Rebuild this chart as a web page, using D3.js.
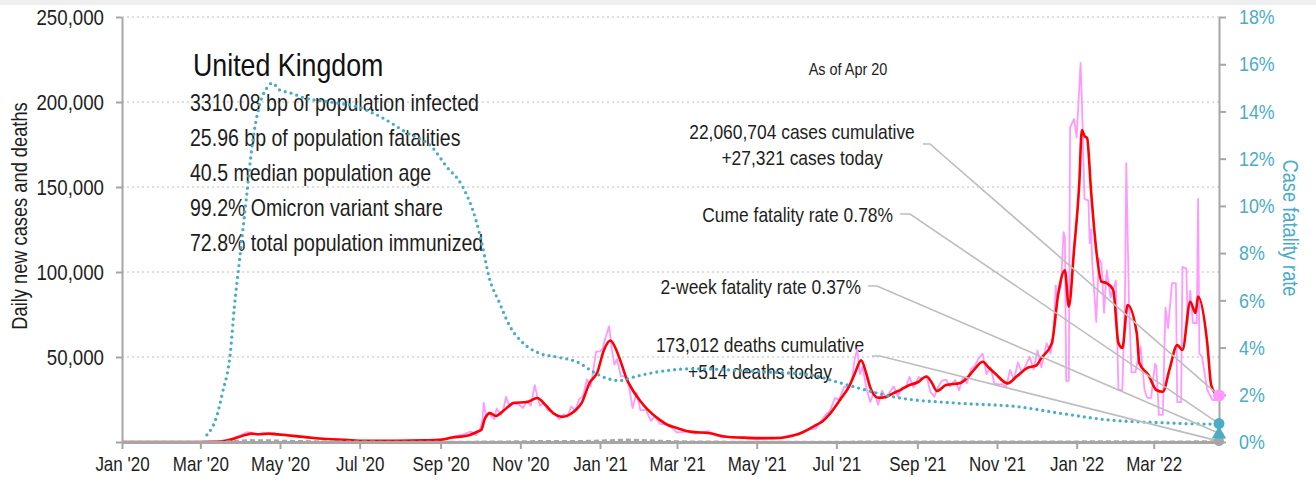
<!DOCTYPE html>
<html><head><meta charset="utf-8">
<script src="https://cdn.jsdelivr.net/npm/d3@7"></script>
<style>
body{margin:0;background:#fff;}
svg text{font-family:"Liberation Sans",Arial,sans-serif;}
</style></head><body><svg id="c" width="1316" height="482"></svg>
<script>
// ---------------- data ----------------
const caseAvg = [
["2020-01-01",0],["2020-03-01",10],["2020-03-10",50],["2020-03-16",300],["2020-03-23",1200],["2020-03-30",2800],
["2020-04-05",4200],["2020-04-09",4900],["2020-04-15",4600],["2020-04-22",4900],["2020-04-29",4500],["2020-05-06",4000],
["2020-05-15",3300],["2020-05-25",2500],["2020-06-06",1800],["2020-06-20",1300],["2020-07-03",700],["2020-07-15",650],
["2020-08-01",750],["2020-08-20",1000],["2020-09-01",1300],["2020-09-10",2600],["2020-09-22",3800],["2020-09-29",6000],
["2020-10-02",7000],["2020-10-05",14000],["2020-10-09",17000],["2020-10-13",15300],["2020-10-20",19000],["2020-10-27",23000],
["2020-11-06",23500],["2020-11-14",25900],["2020-11-20",22000],["2020-11-27",16500],["2020-12-03",14800],["2020-12-08",15800],
["2020-12-13",18500],["2020-12-18",23000],["2020-12-24",34700],["2020-12-30",41000],["2021-01-04",54000],["2021-01-09",59700],
["2021-01-13",55000],["2021-01-17",47000],["2021-01-21",38000],["2021-01-26",30600],["2021-02-01",24000],["2021-02-06",19500],
["2021-02-16",12900],["2021-02-22",10000],["2021-03-01",8200],["2021-03-11",6100],["2021-03-26",5100],["2021-04-08",3100],
["2021-04-20",2600],["2021-05-03",2300],["2021-05-15",2300],["2021-05-23",2800],["2021-05-29",3800],["2021-06-05",5600],
["2021-06-11",8000],["2021-06-16",10200],["2021-06-21",12500],["2021-06-26",16500],["2021-07-04",25000],["2021-07-11",33000],
["2021-07-15",40000],["2021-07-20",48000],["2021-07-24",40000],["2021-07-27",32000],["2021-08-02",26000],["2021-08-08",26500],
["2021-08-13",28500],["2021-08-20",31000],["2021-08-26",33500],["2021-09-01",35000],["2021-09-08",38500],["2021-09-12",35000],
["2021-09-16",30000],["2021-09-23",33500],["2021-10-04",34700],["2021-10-09",37600],["2021-10-15",43000],["2021-10-21",47200],
["2021-10-26",43500],["2021-10-31",40000],["2021-11-09",34500],["2021-11-16",38500],["2021-11-24",43500],["2021-12-01",45000],
["2021-12-05",49400],["2021-12-13",58200],["2021-12-18",87600],["2021-12-23",101000],["2021-12-26",79600],["2021-12-30",113000],
["2022-01-03",152000],["2022-01-05",183500],["2022-01-07",180000],["2022-01-09",178800],["2022-01-12",148000],["2022-01-16",113000],
["2022-01-20",94300],["2022-01-24",93500],["2022-01-29",89400],["2022-02-02",58200],["2022-02-05",55300],["2022-02-09",80600],
["2022-02-16",64100],["2022-02-18",46500],["2022-02-25",39400],["2022-03-03",30600],["2022-03-08",29600],["2022-03-13",42400],
["2022-03-19",57000],["2022-03-23",54100],["2022-03-29",82500],["2022-04-02",75900],["2022-04-04",85500],["2022-04-11",58200],
["2022-04-14",33500],["2022-04-17",28800],["2022-04-20",27300]
];
const caseDaily = [
["2020-01-01",0],["2020-03-01",10],["2020-03-15",400],["2020-03-25",1800],["2020-04-02",4500],["2020-04-06",5800],
["2020-04-10",5200],["2020-04-14",4300],["2020-04-18",5500],["2020-04-22",4600],["2020-04-26",5300],["2020-05-01",4200],
["2020-05-06",4500],["2020-05-12",3200],["2020-05-18",3000],["2020-05-25",2300],["2020-06-05",1800],["2020-06-20",1200],
["2020-07-03",600],["2020-07-20",700],["2020-08-10",900],["2020-08-25",1200],["2020-09-05",1800],["2020-09-12",3400],
["2020-09-18",4300],["2020-09-24",6200],["2020-09-28",4000],["2020-10-01",7000],["2020-10-03",12800],["2020-10-04",23000],
["2020-10-06",14500],["2020-10-08",17500],["2020-10-10",15000],["2020-10-12",13500],["2020-10-14",19700],["2020-10-17",16000],
["2020-10-19",18800],["2020-10-21",26500],["2020-10-24",20600],["2020-10-27",22900],["2020-10-31",21900],["2020-11-03",20000],
["2020-11-06",24100],["2020-11-09",21300],["2020-11-12",33500],["2020-11-14",26800],["2020-11-16",21300],["2020-11-19",22900],
["2020-11-22",18600],["2020-11-25",18200],["2020-11-28",15900],["2020-12-01",13400],["2020-12-04",16300],["2020-12-07",14700],
["2020-12-10",20900],["2020-12-13",18400],["2020-12-16",25200],["2020-12-19",27000],["2020-12-22",36800],["2020-12-25",32700],
["2020-12-29",53100],["2021-01-01",53300],["2021-01-03",54900],["2021-01-05",60900],["2021-01-08",68000],["2021-01-10",54900],
["2021-01-12",45500],["2021-01-14",48700],["2021-01-17",38600],["2021-01-20",38900],["2021-01-23",33500],["2021-01-26",20000],
["2021-01-29",29000],["2021-02-01",18600],["2021-02-05",19100],["2021-02-09",12400],["2021-02-12",15100],["2021-02-16",10600],
["2021-02-20",10400],["2021-02-24",9000],["2021-03-01",5500],["2021-03-05",6000],["2021-03-10",5900],["2021-03-15",5000],
["2021-03-20",5600],["2021-03-25",6400],["2021-03-30",4000],["2021-04-05",2600],["2021-04-10",3000],["2021-04-15",2700],
["2021-04-20",2500],["2021-04-26",1900],["2021-05-02",1600],["2021-05-08",2000],["2021-05-14",2200],["2021-05-20",2900],
["2021-05-27",4100],["2021-06-02",4300],["2021-06-05",6200],["2021-06-10",7400],["2021-06-15",7700],["2021-06-18",11000],
["2021-06-23",16100],["2021-06-26",18300],["2021-06-30",26000],["2021-07-03",24800],["2021-07-07",32500],["2021-07-10",32400],
["2021-07-13",36700],["2021-07-15",48600],["2021-07-17",54700],["2021-07-19",40000],["2021-07-21",44100],["2021-07-24",31800],
["2021-07-27",23500],["2021-07-30",29600],["2021-08-02",21900],["2021-08-05",30200],["2021-08-08",26000],["2021-08-11",29600],
["2021-08-14",32700],["2021-08-17",26800],["2021-08-20",32000],["2021-08-23",31900],["2021-08-26",38300],["2021-08-29",32200],
["2021-09-02",38200],["2021-09-05",37000],["2021-09-08",38800],["2021-09-11",29500],["2021-09-14",26600],["2021-09-17",32600],
["2021-09-20",36100],["2021-09-23",36700],["2021-09-26",32600],["2021-09-30",36500],["2021-10-03",30300],["2021-10-06",38500],
["2021-10-09",34500],["2021-10-12",42800],["2021-10-15",44900],["2021-10-18",49200],["2021-10-21",52000],["2021-10-24",39900],
["2021-10-27",43900],["2021-10-30",34400],["2021-11-02",33900],["2021-11-05",34000],["2021-11-08",32300],["2021-11-11",42400],
["2021-11-14",36500],["2021-11-17",46800],["2021-11-20",40900],["2021-11-23",44900],["2021-11-26",50300],["2021-11-29",42600],
["2021-12-02",53900],["2021-12-05",43900],["2021-12-09",58000],["2021-12-12",52000],["2021-12-14",60000],["2021-12-16",92000],
["2021-12-17",85000],["2021-12-20",92000],["2021-12-22",123500],["2021-12-23",120000],["2021-12-24",36000],["2021-12-26",36000],
["2021-12-27",185000],["2021-12-30",190000],["2022-01-01",179000],["2022-01-04",223000],["2022-01-05",201000],["2022-01-07",143000],
["2022-01-10",142000],["2022-01-11",117000],["2022-01-12",125000],["2022-01-13",105000],["2022-01-16",70600],["2022-01-18",108000],
["2022-01-20",105000],["2022-01-22",76000],["2022-01-24",101000],["2022-01-27",85000],["2022-01-31",95000],["2022-02-02",30600],
["2022-02-05",30600],["2022-02-07",85000],["2022-02-08",164000],["2022-02-10",83500],["2022-02-12",41000],["2022-02-15",41000],
["2022-02-19",56000],["2022-02-22",30600],["2022-02-24",26000],["2022-02-27",26000],["2022-03-02",46000],["2022-03-03",45000],
["2022-03-05",15900],["2022-03-08",15900],["2022-03-10",79000],["2022-03-12",67000],["2022-03-15",93500],["2022-03-18",93500],
["2022-03-19",23500],["2022-03-22",23500],["2022-03-23",103000],["2022-03-26",102000],["2022-03-27",70000],["2022-03-29",89000],
["2022-03-31",70000],["2022-04-03",70000],["2022-04-04",143000],["2022-04-05",52000],["2022-04-07",50000],["2022-04-11",30600],
["2022-04-15",24700],["2022-04-19",24700],["2022-04-20",27321]
];
const deathAvg = [
["2020-01-01",0],["2020-03-10",0],["2020-03-20",50],["2020-03-30",500],["2020-04-08",950],["2020-04-15",900],["2020-04-25",800],
["2020-05-05",550],["2020-05-20",350],["2020-06-05",200],["2020-06-20",120],["2020-07-05",60],["2020-08-01",15],["2020-09-01",10],
["2020-09-20",25],["2020-10-05",60],["2020-10-20",150],["2020-11-05",300],["2020-11-20",430],["2020-12-05",400],["2020-12-20",470],
["2021-01-05",800],["2021-01-20",1250],["2021-02-01",1050],["2021-02-15",600],["2021-03-01",300],["2021-03-15",130],["2021-04-01",50],
["2021-05-01",15],["2021-06-01",10],["2021-07-01",20],["2021-07-20",60],["2021-08-10",90],["2021-09-01",120],["2021-10-01",120],
["2021-11-01",150],["2021-12-01",120],["2021-12-20",110],["2022-01-10",220],["2022-01-25",270],["2022-02-15",180],["2022-03-10",110],
["2022-03-30",180],["2022-04-10",250],["2022-04-20",300]
];
const cfr = [
["2020-03-06",0.3],["2020-03-13",1.0],["2020-03-18",2.1],["2020-03-24",3.8],["2020-03-27",5.7],["2020-03-31",7.7],["2020-04-05",10.2],
["2020-04-10",12.7],["2020-04-15",14.2],["2020-04-21",15.0],["2020-04-25",15.2],["2020-05-01",14.9],["2020-05-08",14.8],["2020-05-21",14.55],
["2020-06-08",14.4],["2020-06-29",14.2],["2020-07-16",13.8],["2020-08-06",13.1],["2020-08-26",12.45],["2020-09-05",11.7],["2020-09-18",10.8],
["2020-09-28",9.4],["2020-10-03",8.3],["2020-10-08",7.0],["2020-10-16",5.9],["2020-10-24",4.9],["2020-11-03",4.2],["2020-11-16",3.75],
["2020-11-29",3.6],["2020-12-16",3.35],["2020-12-26",3.0],["2021-01-06",2.7],["2021-01-16",2.6],["2021-01-26",2.74],["2021-02-10",2.93],
["2021-03-13",3.1],["2021-05-03",2.98],["2021-06-11",2.84],["2021-07-01",2.55],["2021-07-19",2.27],["2021-08-13",1.92],["2021-10-03",1.64],
["2021-11-16",1.5],["2021-12-19",1.22],["2022-01-26",0.93],["2022-03-06",0.82],["2022-04-13",0.76],["2022-04-20",0.78]
];
const latest = {date:"2022-04-20", cases:27321, deaths:514, cumeRate:0.78, twoWeekRate:0.37};
const leftTicks = [0,50000,100000,150000,200000,250000];
const rightTicks = [0,2,4,6,8,10,12,14,16,18];
const titleText = "United Kingdom";
const statLines = ["3310.08 bp of population infected","25.96 bp of population fatalities","40.5 median population age","99.2% Omicron variant share","72.8% total population immunized"];
const asOfText = "As of Apr 20";
const casesNote = ["22,060,704 cases cumulative","+27,321 cases today"];
const cumeNote = "Cume fatality rate 0.78%";
const twoWeekNote = "2-week fatality rate 0.37%";
const deathsNote = ["173,012 deaths cumulative","+514 deaths today"];

// ---------------- drawing ----------------
const SX = 0.85; // horizontal condensing of the text face
const svg = d3.select("#c");
const parse = d3.timeParse("%Y-%m-%d");
const L = 122, R = 1219, T = 17, B = 442;
const x = d3.scaleTime().domain([parse("2020-01-01"), parse("2022-04-20")]).range([L, R]);
const yL = d3.scaleLinear().domain([0, 250000]).range([B, T]);
const yR = d3.scaleLinear().domain([0, 18]).range([B, T]);
const axisCol = "#a6a6a6", blue = "#4bacc6", ink = "#1e1e1e";

function txt(g, px, py, s, size, anchor, fill, rot) {
  return g.append("text")
    .attr("transform", `translate(${px},${py})${rot ? ` rotate(${rot})` : ""} scale(${SX},1)`)
    .attr("font-size", size).attr("text-anchor", anchor || "start").attr("fill", fill || ink).text(s);
}
function condense(g, size, fill) {
  g.selectAll(".tick text").each(function () {
    const t = d3.select(this); const x0 = +t.attr("x") || 0;
    t.attr("x", x0 / SX).attr("transform", `scale(${SX},1)`);
  }).attr("font-size", size).attr("fill", fill);
  g.attr("font-family", null).attr("font-size", null);
}

svg.append("rect").attr("x",0).attr("y",0).attr("width",1316).attr("height",5).attr("fill","#efefef");

// gridlines
svg.append("g").selectAll("line").data(leftTicks.filter(d=>d>0)).join("line")
  .attr("x1",L).attr("x2",R).attr("y1",d=>yL(d)).attr("y2",d=>yL(d))
  .attr("stroke","#bdbdbd").attr("stroke-width",1).attr("stroke-dasharray","2,3");

// text block
const tb = svg.append("g");
txt(tb, 193, 76, titleText, 31.5, "start", "#111");
statLines.forEach((s,i) => txt(tb, 190, 111 + i*35, s, 23, "start", ink));

// annotations
const ann = svg.append("g");
txt(ann, 848, 75, asOfText, 17, "middle");
txt(ann, 802, 139, casesNote[0], 20.5, "middle");
txt(ann, 802, 165, casesNote[1], 20.5, "middle");
txt(ann, 893, 222, cumeNote, 20.5, "end");
txt(ann, 861, 294, twoWeekNote, 20.5, "end");
txt(ann, 760, 352, deathsNote[0], 20.5, "middle");
txt(ann, 760, 379, deathsNote[1], 20.5, "middle");

// series
const pts = arr => arr.map(d=>[parse(d[0]), d[1]]);
const lineL = d3.line().x(d=>x(d[0])).y(d=>yL(d[1]));
svg.append("path").datum(pts(caseDaily)).attr("d",lineL).attr("fill","none").attr("stroke","#ff99ff").attr("stroke-width",1.8).attr("stroke-linejoin","round");
svg.append("path").datum(pts(caseAvg)).attr("d",d3.line().x(d=>x(d[0])).y(d=>yL(d[1])).curve(d3.curveMonotoneX))
  .attr("fill","none").attr("stroke","#ff0000").attr("stroke-width",2.6).attr("stroke-linejoin","round");
svg.append("path").datum(pts(deathAvg)).attr("d",lineL).attr("fill","none").attr("stroke","#a6a6a6").attr("stroke-width",2.6).attr("stroke-dasharray","5,3");
svg.append("path").datum(pts(cfr)).attr("d",d3.line().x(d=>x(d[0])).y(d=>yR(d[1])).curve(d3.curveMonotoneX))
  .attr("fill","none").attr("stroke",blue).attr("stroke-width",3.3).attr("stroke-linecap","round").attr("stroke-dasharray","0,6");

// axes
const xAxis = d3.axisBottom(x).ticks(d3.timeMonth.every(2)).tickFormat(d3.timeFormat("%b '%y")).tickSize(7).tickSizeOuter(0).tickPadding(8);
const gx = svg.append("g").attr("transform",`translate(0,${B})`).call(xAxis);
gx.select(".domain").attr("stroke",axisCol).attr("stroke-width",3);
gx.selectAll(".tick line").attr("stroke",axisCol).attr("stroke-width",2);
condense(gx, 20, ink);

const gl = svg.append("g").attr("transform",`translate(${L},0)`)
  .call(d3.axisLeft(yL).tickValues(leftTicks).tickFormat(d=>d===0?"":d3.format(",")(d)).tickSize(6).tickSizeOuter(0).tickPadding(12));
gl.select(".domain").attr("stroke",axisCol).attr("stroke-width",2);
gl.selectAll(".tick line").attr("stroke",axisCol).attr("stroke-width",2);
condense(gl, 22, ink);

const gr = svg.append("g").attr("transform",`translate(${R},0)`)
  .call(d3.axisRight(yR).tickValues(rightTicks).tickFormat(d=>d+"%").tickSize(7).tickSizeOuter(0).tickPadding(13));
gr.select(".domain").attr("stroke",axisCol).attr("stroke-width",2);
gr.selectAll(".tick line").attr("stroke",axisCol).attr("stroke-width",2);
condense(gr, 21, blue);

const tg = svg.append("g");
txt(tg, 27, 216, "Daily new cases and deaths", 21.5, "middle", ink, -90);
txt(tg, 1283, 228, "Case fatality rate", 21.5, "middle", blue, 90);

// leaders and end markers
const xe = x(parse(latest.date));
const leaders = [
  [[923,144],[930,144],[xe, yL(latest.cases)]],
  [[900,214],[910,214],[xe, yR(latest.cumeRate)]],
  [[868,286],[877,286],[xe, yR(latest.twoWeekRate)]],
  [[872,356],[880,356],[xe, yL(latest.deaths)]]
];
svg.append("g").selectAll("path").data(leaders).join("path").attr("d",d3.line()).attr("fill","none").attr("stroke","#bdbdbd").attr("stroke-width",1.6);
svg.append("circle").attr("cx",xe).attr("cy",yL(latest.deaths)).attr("r",5).attr("fill","#a6a6a6");
svg.append("path").attr("d",d3.symbol(d3.symbolTriangle,90)()).attr("transform",`translate(${xe},${yR(latest.twoWeekRate)+1})`).attr("fill",blue);
svg.append("circle").attr("cx",xe).attr("cy",yR(latest.cumeRate)).attr("r",5.5).attr("fill",blue);
svg.append("circle").attr("cx",xe).attr("cy",yL(latest.cases)).attr("r",6).attr("fill","#ff99ff");
</script></body></html>
